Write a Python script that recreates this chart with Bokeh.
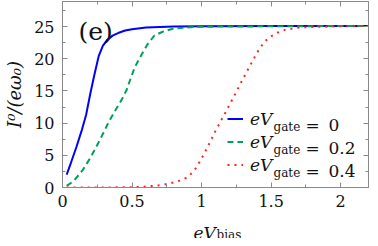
from bokeh.plotting import figure
from bokeh.layouts import column
from bokeh.models import (FixedTicker, Range1d, Label, Legend, LegendItem, LinearAxis,
                          CustomJSTickFormatter)
from bokeh.embed import file_html
from bokeh.resources import INLINE
from bokeh.core.properties import value

# ---- data ----
gate_values = ["0", "0.2", "0.4"]

x_gate0 = [0.03, 0.06, 0.10, 0.14, 0.17, 0.20, 0.23, 0.26, 0.29, 0.32, 0.36, 0.40, 0.45,
           0.50, 0.60, 0.70, 0.80, 1.00, 1.50, 2.20]
y_gate0 = [2.0, 3.8, 6.3, 9.0, 11.3, 14.6, 17.6, 20.4, 22.0, 22.9, 23.6, 24.0, 24.4,
           24.6, 24.85, 24.95, 25.0, 25.05, 25.1, 25.1]

x_gate02 = [0.03, 0.08, 0.145, 0.20, 0.24, 0.29, 0.333, 0.38, 0.427, 0.46, 0.486, 0.52,
            0.567, 0.61, 0.66, 0.72, 0.78, 0.85, 0.95, 1.10, 1.50, 2.20]
y_gate02 = [0.25, 1.0, 2.7, 4.6, 6.2, 8.3, 10.2, 12.0, 13.7, 15.1, 16.7, 18.7,
            20.6, 22.2, 23.6, 24.2, 24.6, 24.8, 24.95, 25.0, 25.05, 25.1]

x_gate04 = [0.03, 0.30, 0.50, 0.60, 0.70, 0.75, 0.80, 0.85, 0.90, 0.95, 1.00, 1.05,
            1.10, 1.20, 1.30, 1.40, 1.45, 1.50, 1.55, 1.60, 1.70, 1.80, 2.00, 2.20]
y_gate04 = [0.0, 0.0, 0.05, 0.15, 0.35, 0.55, 0.8, 1.1, 1.6, 2.7, 4.5, 6.6,
            8.8, 12.8, 17.0, 21.0, 22.6, 23.5, 24.1, 24.5, 24.85, 24.95, 25.05, 25.1]

x_major = [0, 0.5, 1, 1.5, 2]
x_minor = [0.25, 0.75, 1.25, 1.75]
y_major = [0, 5, 10, 15, 20, 25]
y_minor = [2.5, 7.5, 12.5, 17.5, 22.5, 27.5]

y_title = "I⁰/(eω₀)"
x_title_main, x_title_sub = "eV", "bias"

# ---- layout constants (picture pixels) ----
MAIN_W = 370
MAIN_H = 214
BOTTOM_H = 24        # strip holding the x-axis title
FRAME_LEFT = 62
FRAME_BOTTOM = 187
SERIF = "DejaVu Serif"
AXIS_GRAY = "#8a8a8a"
INK = "#111111"

p = figure(width=MAIN_W, height=MAIN_H, x_range=Range1d(0, 2.2), y_range=Range1d(0, 28.9),
           output_backend="svg", toolbar_location=None, title=None,
           min_border_left=FRAME_LEFT, min_border_right=2, min_border_top=1,
           min_border_bottom=MAIN_H - FRAME_BOTTOM)
p.grid.visible = False
p.outline_line_color = AXIS_GRAY
p.background_fill_color = "white"
p.border_fill_color = "white"

def style_axis(ax, ticks, minor, show_labels, standoff=8):
    ax.ticker = FixedTicker(ticks=ticks, minor_ticks=minor)
    ax.axis_line_color = AXIS_GRAY
    ax.major_tick_line_color = AXIS_GRAY
    ax.minor_tick_line_color = AXIS_GRAY
    ax.major_tick_in = 5
    ax.major_tick_out = 0
    ax.minor_tick_in = 3
    ax.minor_tick_out = 0
    if show_labels:
        ax.major_label_text_font = SERIF
        ax.major_label_text_font_size = "16px"
        ax.major_label_text_color = INK
        ax.major_label_standoff = standoff
    else:
        ax.formatter = CustomJSTickFormatter(code="return ''")
        ax.major_label_standoff = 0

style_axis(p.xaxis[0], x_major, x_minor, True, 7)
style_axis(p.yaxis[0], y_major, y_minor, True, 8)

# y-axis title as the axis' own label
p.yaxis[0].axis_label = y_title
p.yaxis[0].axis_label_text_font = SERIF
p.yaxis[0].axis_label_text_font_size = "18px"
p.yaxis[0].axis_label_text_font_style = "italic"
p.yaxis[0].axis_label_text_color = INK
p.yaxis[0].axis_label_standoff = 6

top_ax = LinearAxis()
right_ax = LinearAxis()
style_axis(top_ax, x_major, x_minor, False)
style_axis(right_ax, y_major, y_minor, False)
p.add_layout(top_ax, "above")
p.add_layout(right_ax, "right")

r0 = p.line(x_gate0, y_gate0, line_color="#0000ff", line_width=2)
r1 = p.line(x_gate02, y_gate02, line_color="#00a05a", line_width=2, line_dash="6 4")
r2 = p.line(x_gate04, y_gate04, line_color="#ff2020", line_width=2, line_dash="2 5")

legend = Legend(items=[LegendItem(label=value("eV"), renderers=[r]) for r in (r0, r1, r2)],
                location=(165, 11), orientation="vertical", padding=0, margin=0, spacing=0,
                glyph_width=16, glyph_height=23, label_standoff=7,
                label_text_font=SERIF, label_text_font_style="italic",
                label_text_font_size="17px", label_text_color=INK,
                border_line_alpha=0, background_fill_alpha=0)
p.add_layout(legend)

def lab(text, px, py, size, style="normal"):
    # inside the main frame: screen units relative to the frame
    p.add_layout(Label(x=px - FRAME_LEFT, y=FRAME_BOTTOM - py, x_units="screen", y_units="screen",
                       text=text, text_font=SERIF, text_font_size=f"{size}px",
                       text_font_style=style, text_color=INK,
                       text_baseline="alphabetic", text_align="left"))

# panel tag
lab("(e)", 78, 31, 25)

# legend label remainders
for i, g in enumerate(gate_values):
    base = 124.5 + 23 * i
    lab("gate", 273, base + 2, 12)
    lab("=", 305, base, 17)
    lab(g, 328, base, 17)

# x-axis title strip (picture origin 0, MAIN_H)
lx = figure(width=MAIN_W, height=BOTTOM_H, x_axis_type=None, y_axis_type=None, title=None,
            output_backend="svg", toolbar_location=None, min_border=0, outline_line_color=None)
lx.grid.visible = False

def strip_label(text, cx, cy, size, style="normal"):
    lx.add_layout(Label(x=cx, y=cy, x_units="canvas", y_units="canvas",
                        text=text, text_font=SERIF, text_font_size=f"{size}px",
                        text_font_style=style, text_color=INK,
                        text_baseline="alphabetic", text_align="left"))

strip_label(x_title_main, 193, 18, 17, "italic")
strip_label(x_title_sub, 216, 20, 12, "normal")

layout = column(p, lx)
open("out.html", "w").write(file_html(layout, INLINE))
